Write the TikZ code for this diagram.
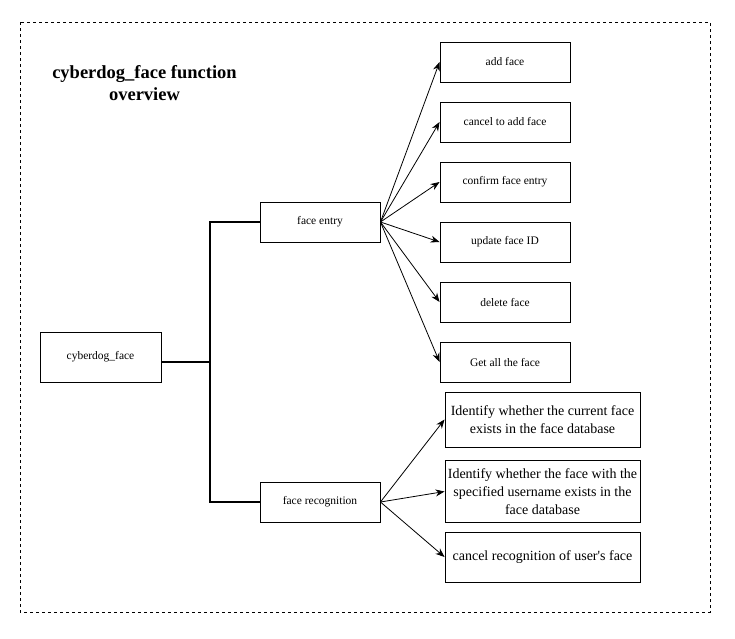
\documentclass[tikz,border=0pt]{standalone}
\usepackage{fontspec}
\setmainfont{Liberation Serif}
\usetikzlibrary{arrows.meta}
\begin{document}
\begin{tikzpicture}[x=1pt,y=-1pt,
  box/.style={draw,line width=0.9pt,inner sep=0pt,font=\fontsize{11.5}{14}\selectfont,align=center},
  bigbox/.style={draw,line width=0.9pt,inner sep=0pt,font=\fontsize{14}{18.3}\selectfont,align=center,minimum width=195pt},
  trunk/.style={line width=1.8pt},
  arr/.style={line width=0.8pt,-{Stealth[length=9pt,width=7pt]}}]
\useasboundingbox (0,0) rectangle (735,638);
\draw[dashed,line width=0.8pt] (20,22) rectangle (710,612);
\node[font=\bfseries\fontsize{18.5}{22}\selectfont,align=center] (title) at (144.5,83) {cyberdog\_face function\\overview};
\node[box,minimum width=121pt,minimum height=50pt] (root) at (100.5,357) {cyberdog\_face};
\node[box,minimum width=120pt,minimum height=40pt] (entry) at (320,222) {face entry};
\node[box,minimum width=120pt,minimum height=40pt] (recog) at (320,502) {face recognition};
\foreach \n/\y/\t in {a/62/add face, b/122/cancel to add face, c/182/confirm face entry, d/242/update face ID, e/302/delete face, f/362/Get all the face}{
  \node[box,minimum width=130pt,minimum height=40pt] (\n) at (505,\y) {\t};
}
\node[bigbox,minimum height=55pt] (r1) at (542.5,419.5) {Identify whether the current face\\exists in the face database};
\node[bigbox,minimum height=62pt] (r2) at (542.5,491.5) {Identify whether the face with the\\specified username exists in the\\face database};
\node[bigbox,minimum height=50pt] (r3) at (542.5,557) {cancel recognition of user\textquotesingle s face};
\coordinate (rootout) at (161,362);
\coordinate (jn) at (210,362);
\draw[trunk] (rootout) -- (jn);
\draw[trunk] (entry.west) -| (jn) |- (recog.west);
\foreach \n in {a,b,c,d,e,f}{\draw[arr] (entry.east) -- (\n.west);}
\foreach \n in {r1,r2,r3}{\draw[arr] (recog.east) -- (\n.west);}
\end{tikzpicture}
\end{document}
